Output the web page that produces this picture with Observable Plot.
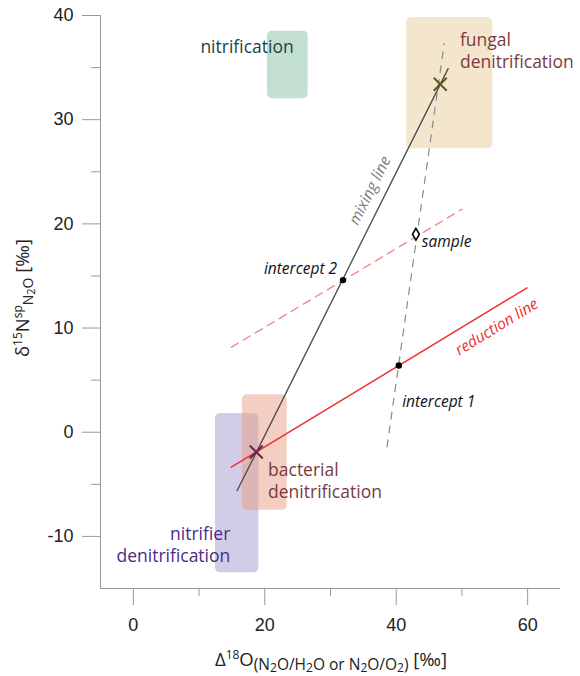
<!DOCTYPE html>
<html><head><meta charset="utf-8">
<script src="https://cdn.jsdelivr.net/npm/d3@7"></script>
<script src="https://cdn.jsdelivr.net/npm/@observablehq/plot@0.6"></script>
<style>
body{margin:0;background:#fff;}
#chart{width:580px;height:676px;}
</style></head><body><div id="chart"></div>
<script>
// ---- data ----
const sources   = ["nitrification", "fungal denitrification", "nitrifier denitrification", "bacterial denitrification"];
const srcD18Min = [20.4, 41.6, 12.5, 16.6];
const srcD18Max = [26.6, 54.7, 19.1, 23.4];
const srcSPMin  = [32.0, 27.2, -13.5, -7.5];
const srcSPMax  = [38.5, 39.8, 1.8, 3.6];

const endmemberNames = ["bacterial", "fungal"];
const endmemberD18 = [18.7, 46.7];
const endmemberSP  = [-1.9, 33.4];

const mixingD18 = [15.8, 47.9];
const mixingSP  = [-5.6, 34.9];

const reductionD18 = [14.9, 59.9];
const reductionSP  = [-3.35, 13.85];

const reductionThroughSampleD18 = [14.9, 50.0];
const reductionThroughSampleSP  = [8.15, 21.4];

const mixThroughSampleD18 = [38.6, 47.3];
const mixThroughSampleSP  = [-1.4, 37.3];

const sampleD18 = [43.0];
const sampleSP  = [19.0];

const interceptNames = ["intercept 1", "intercept 2"];
const interceptD18 = [40.4, 31.9];
const interceptSP  = [6.4, 14.6];

const xTicks = [0, 20, 40, 60];
const xMinorTicks = [10, 30, 50];
const yTicks = [-10, 0, 10, 20, 30, 40];
const yMinorTicks = [-5, 5, 15, 25, 35];

// ---- styles ----
const srcFill = {
  "nitrification": "#c3dfcf",
  "fungal denitrification": "#f3e6cd",
  "nitrifier denitrification": "#a799cd",
  "bacterial denitrification": "#e59f85"
};
const srcOpacity = {
  "nitrification": 1,
  "fungal denitrification": 1,
  "nitrifier denitrification": 0.5,
  "bacterial denitrification": 0.5
};
const endColor = {bacterial: "#6a2848", fungal: "#5a5a24"};

const rects = sources.map((s, i) => ({s, x1: srcD18Min[i], x2: srcD18Max[i], y1: srcSPMin[i], y2: srcSPMax[i]}));
const pts = (xs, ys) => xs.map((x, i) => ({x, y: ys[i]}));
const ends = endmemberNames.map((n, i) => ({n, x: endmemberD18[i], y: endmemberSP[i]}));

const font = "'Open Sans', sans-serif";
const fmt = d => String(d);

const plot = Plot.plot({
  width: 580, height: 676,
  marginLeft: 100, marginRight: 20, marginTop: 15, marginBottom: 88,
  style: {fontFamily: "'Liberation Sans', Arial, sans-serif", fontSize: "18px", color: "#222", background: "#fff"},
  x: {domain: [-5, 65]},
  y: {domain: [-15, 40]},
  marks: [
    Plot.rect(rects, {x1: "x1", x2: "x2", y1: "y1", y2: "y2", fill: d => srcFill[d.s], fillOpacity: d => srcOpacity[d.s], rx: 5}),
    Plot.ruleY([-15], {stroke: "#999"}),
    Plot.ruleX([-5], {stroke: "#999"}),
    Plot.axisX({ticks: xTicks, tickSize: 17, tickPadding: 13, stroke: "#999", fill: "#222", label: null, fontSize: 18, tickFormat: fmt}),
    Plot.axisX({ticks: xMinorTicks, tickSize: 8, stroke: "#999", label: null, tickFormat: () => ""}),
    Plot.axisY({ticks: yTicks, tickSize: 18, tickPadding: 9, stroke: "#999", fill: "#222", label: null, fontSize: 18, tickFormat: fmt}),
    Plot.axisY({ticks: yMinorTicks, tickSize: 9, stroke: "#999", label: null, tickFormat: () => ""}),
    // dashed helper lines
    Plot.line(pts(mixThroughSampleD18, mixThroughSampleSP), {x: "x", y: "y", stroke: "#8a8a8a", strokeWidth: 1.2, strokeDasharray: "7,7"}),
    Plot.line(pts(reductionThroughSampleD18, reductionThroughSampleSP), {x: "x", y: "y", stroke: "#f08a8a", strokeWidth: 1.4, strokeDasharray: "8,6"}),
    // solid lines
    Plot.line(pts(reductionD18, reductionSP), {x: "x", y: "y", stroke: "#ee3030", strokeWidth: 1.5}),
    Plot.line(pts(mixingD18, mixingSP), {x: "x", y: "y", stroke: "#4a4a4a", strokeWidth: 1.3}),
    // endmembers
    Plot.dot(ends, {x: "x", y: "y", symbol: "times", r: 6, stroke: d => endColor[d.n], strokeWidth: 2}),
    // intercepts & sample
    Plot.dot(pts(interceptD18, interceptSP), {x: "x", y: "y", r: 3.2, fill: "#000"}),
    Plot.dot(pts(sampleD18, sampleSP), {x: "x", y: "y", symbol: "diamond", r: 3.6, fill: "#fff", stroke: "#000", strokeWidth: 1.6}),
    // source labels
    Plot.text(["nitrification"], {x: 10.2, y: 36.9, textAnchor: "start", fill: "#1b4446", fontSize: 17.5, fontFamily: font}),
    Plot.text(["fungal\ndenitrification"], {x: 49.7, y: 36.65, textAnchor: "start", lineAnchor: "middle", lineHeight: 1.26, fill: "#7a3a3f", fontSize: 17.5, fontFamily: font}),
    Plot.text(["bacterial\ndenitrification"], {x: 20.5, y: -4.55, textAnchor: "start", lineAnchor: "middle", lineHeight: 1.3, fill: "#7a3a3f", fontSize: 17.5, fontFamily: font}),
    Plot.text(["nitrifier\ndenitrification"], {x: 14.75, y: -10.75, textAnchor: "end", lineAnchor: "middle", lineHeight: 1.26, fill: "#4b2a88", fontSize: 17.5, fontFamily: font}),
    // line & point labels
    Plot.text(["mixing line"], {x: 36.0, y: 23.2, rotate: -63.5, fill: "#777", fontSize: 15.5, fontStyle: "italic", fontFamily: font}),
    Plot.text(["reduction line"], {x: 55.3, y: 10.1, rotate: -31.3, fill: "#ee3030", fontSize: 15.5, fontStyle: "italic", fontFamily: font}),
    Plot.text(["sample"], {x: 43.9, y: 18.3, textAnchor: "start", fill: "#111", fontSize: 15.5, fontStyle: "italic", fontFamily: font}),
    Plot.text(["intercept 2"], {x: 31.0, y: 15.7, textAnchor: "end", fill: "#111", fontSize: 15.5, fontStyle: "italic", fontFamily: font}),
    Plot.text(["intercept 1"], {x: 40.9, y: 2.9, textAnchor: "start", fill: "#111", fontSize: 15.5, fontStyle: "italic", fontFamily: font})
  ]
});

document.getElementById("chart").appendChild(plot);

// axis titles with sub/superscripts
const svg = d3.select(plot);
const xl = svg.append("text")
  .attr("x", 331).attr("y", 666).attr("text-anchor", "middle")
  .attr("font-family", font).attr("font-size", 18).attr("fill", "#222");
const xparts = [
  ["Δ", 18.5, 0], ["18", 12, -7], ["O", 18.5, 7], ["(N", 15.5, 4], ["2", 12, 2], ["O/H", 15.5, -2], ["2", 12, 2],
  ["O or N", 15.5, -2], ["2", 12, 2], ["O/O", 15.5, -2], ["2", 12, 2], [")", 15.5, -2], [" [‰]", 18.5, -4]
];
xparts.forEach(([t, s, dy]) => xl.append("tspan").attr("font-size", s).attr("dy", dy).text(t));

const yl = svg.append("text")
  .attr("transform", "translate(29,298) rotate(-90)").attr("text-anchor", "middle")
  .attr("font-family", font).attr("font-size", 18).attr("fill", "#222");
const yparts = [
  ["δ", 18.5, 0], ["15", 12, -7], ["N", 18.5, 7], ["sp", 12, -7], ["N", 14, 11], ["2", 11, 2], ["O", 14, -2], [" [‰]", 18.5, -4]
];
yparts.forEach(([t, s, dy]) => yl.append("tspan").attr("font-size", s).attr("dy", dy).text(t));
</script>
</body></html>
